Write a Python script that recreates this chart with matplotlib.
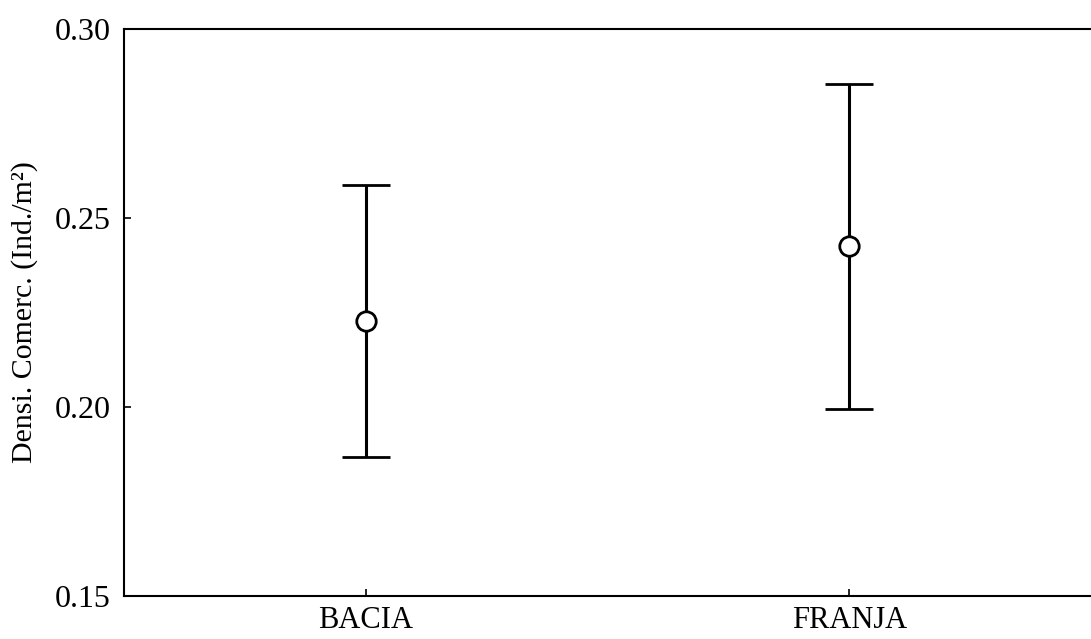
import matplotlib
matplotlib.use('Agg')
import matplotlib.pyplot as plt

# group means and confidence limits
groups = ['BACIA', 'FRANJA']
means = [0.2228, 0.2426]
upper = [0.2587, 0.2855]
lower = [0.1868, 0.1995]
yticks = [0.15, 0.20, 0.25, 0.30]

plt.rcParams['font.family'] = ['Liberation Serif', 'DejaVu Serif']

fig = plt.figure(figsize=(10.91, 6.39), dpi=100)
ax = fig.add_axes([124 / 1091, 43 / 639, 967 / 1091, 567 / 639])

x = list(range(len(groups)))
err = [[m - l for m, l in zip(means, lower)], [u - m for m, u in zip(means, upper)]]
ax.errorbar(x, means, yerr=err, fmt='o', color='black', ecolor='black',
            elinewidth=2.2, capsize=17.5, capthick=2.2, markersize=14,
            markerfacecolor='white', markeredgecolor='black', markeredgewidth=2)

ax.set_xlim(-0.5, 1.5)
ax.set_ylim(0.15, 0.30)
ax.set_xticks(x)
ax.set_xticklabels(groups)
ax.set_yticks(yticks)
ax.set_yticklabels(['%.2f' % v for v in yticks])
ax.tick_params(direction='in', length=5, width=1.2)
ax.tick_params(axis='y', labelsize=23, pad=9.5)
ax.tick_params(axis='x', labelsize=22, pad=7.5)
ax.spines['right'].set_visible(False)
for s in ['left', 'bottom', 'top']:
    ax.spines[s].set_linewidth(1.5)
ax.set_ylabel('Densi. Comerc. (Ind./m²)', fontsize=21.5, labelpad=12)

fig.savefig('out.png', dpi=100)
